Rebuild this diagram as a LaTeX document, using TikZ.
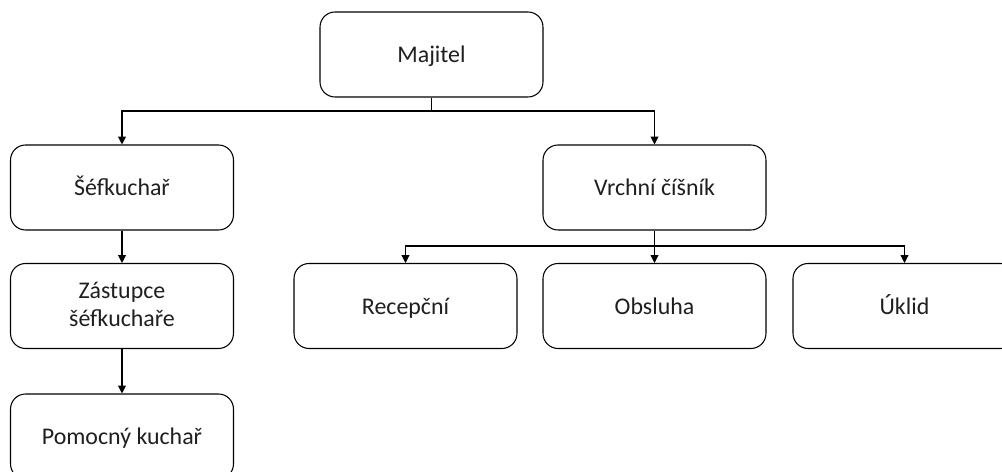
\documentclass[tikz,border=0pt]{standalone}
\usepackage{fontspec}
\setmainfont{Carlito}
\usetikzlibrary{arrows.meta}
\begin{document}
\begin{tikzpicture}[x=0.02cm,y=-0.02cm,
	box/.style={draw, line width=0.6pt, fill=white, rounded corners=0.3cm,
		minimum width=4.46cm, minimum height=1.7cm, align=center,
		text=black!88, font=\fontsize{13.6}{16.2}\selectfont,
		execute at begin node={\vphantom{Úy}}},
	link/.style={line width=0.6pt, -{Triangle[width=4.5pt,length=4.5pt]}}]
	\path[use as bounding box, clip] (0,0) rectangle (1002,472);
	% top
	\node[box] (majitel) at (431.5,54.5) {Majitel};
	% kitchen
	\node[box] (sef) at (122,187.5) {Šéfkuchař};
	\node[box] (zastupce) at (122,306) {Zástupce\\šéfkuchaře};
	\node[box] (pomocny) at (122,436.5) {Pomocný kuchař};
	% service
	\node[box] (vrchni) at (654.5,187.5) {Vrchní číšník};
	\node[box] (recepcni) at (405.5,306) {Recepční};
	\node[box] (obsluha) at (654.5,306) {Obsluha};
	\node[box] (uklid) at (904.5,306) {Úklid};
	\coordinate (bus1) at (431.5,111);
	\coordinate (bus2) at (654.5,246);
	\draw[line width=0.6pt] (majitel.south) -- (bus1);
	\draw[link] (bus1) -| (sef.north);
	\draw[link] (bus1) -| (vrchni.north);
	\draw[link] (sef.south) -- (zastupce.north);
	\draw[link] (zastupce.south) -- (pomocny.north);
	\draw[line width=0.6pt] (vrchni.south) -- (bus2);
	\draw[link] (bus2) -| (recepcni.north);
	\draw[link] (bus2) -- (obsluha.north);
	\draw[link] (bus2) -| (uklid.north);
\end{tikzpicture}
\end{document}
